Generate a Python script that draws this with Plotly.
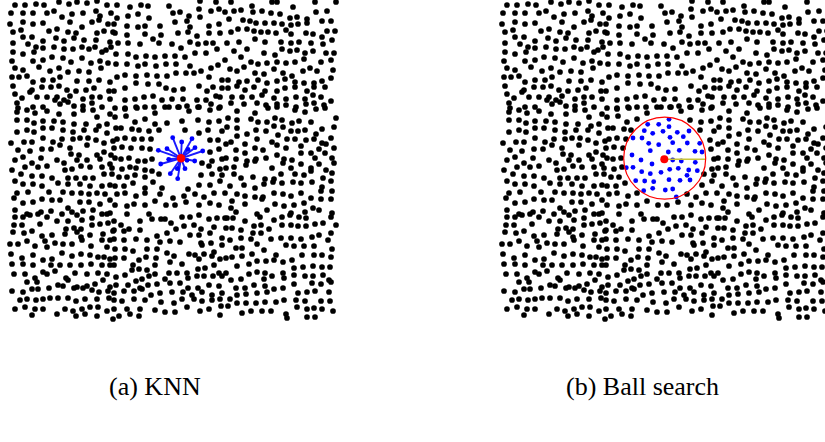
import math
import plotly.graph_objects as go

# ---------------- data (panel-local pixel units, y downward) ----------------
cloud_xy = [
# tile row 1
(15,5),(25,5),(36,4),(44,5),(59,2),(69,4),(77,2),(87,3),(97,1),(107,5),
(11,13),(23,13),(33,13),(47,13),(54,11),(62,17),(72,14),(83,13),(96,11),(100,16),(111,13),
(10,24),(23,22),(33,24),(43,23),(70,22),(82,27),(92,22),(99,20),(108,24),
(13,32),(21,30),(23,37),(32,37),(49,31),(57,29),(68,32),(76,33),(97,33),(104,31),(113,32),
(13,43),(28,44),(36,47),(43,41),(56,38),(64,41),(74,38),(84,40),(96,40),(95,47),(106,50),(110,42),
(13,52),(23,54),(34,52),(43,48),(54,47),(64,49),(73,49),(82,47),(89,49),(102,52),(111,47),
(12,61),(33,61),(43,60),(52,57),(63,58),(71,62),(82,58),(91,63),(100,61),(108,63),
(15,68),(23,70),(39,67),(50,71),(59,68),(68,72),(79,71),(89,72),(101,68),
(12,77),(19,77),(27,76),(33,82),(43,80),(53,80),(60,77),(77,81),(89,81),(99,80),(110,82),
(13,86),(32,90),(42,87),(51,87),(59,86),(67,90),(76,91),(86,90),(94,88),(109,91),
(15,94),(22,98),(30,92),(37,97),(47,97),(57,97),(64,100),(70,96),(83,99),(92,97),(100,97),(110,99),
(17,103),(18,108),(33,107),(43,107),(55,100),(60,104),(68,102),(74,106),(83,106),(92,103),(102,107),
(117,5),(130,7),(141,5),(148,6),(169,6),(200,1),(216,2),
(117,18),(128,16),(138,14),(149,18),(173,13),(180,12),(189,16),(199,9),(211,11),(219,9),(225,12),
(114,24),(127,26),(138,27),(145,26),(160,26),(175,22),(187,21),(190,27),(200,17),(209,26),(219,24),
(115,33),(127,35),(145,34),(153,39),(161,35),(178,33),(188,32),(197,36),(209,33),(220,33),
(118,43),(128,43),(140,44),(159,43),(172,44),(181,48),(190,42),(198,44),(206,43),(213,43),
(116,54),(128,54),(136,57),(146,56),(155,57),(165,56),(175,56),(185,57),(195,53),(206,53),(217,49),
(116,64),(127,64),(138,66),(145,64),(156,66),(166,64),(176,64),(190,66),(194,73),(201,71),(211,68),(218,65),
(117,77),(125,75),(136,76),(147,75),(157,76),(167,76),(176,73),(186,73),(209,77),(222,80),
(125,88),(136,83),(148,84),(159,84),(166,88),(174,90),(183,89),(199,86),(207,91),(213,87),(222,88),(216,96),
(114,91),(125,100),(135,99),(144,97),(153,96),(162,100),(172,99),(183,99),(197,100),(206,100),(220,97),
(125,108),(136,107),(154,107),(165,107),(178,107),(187,106),(199,107),(211,104),(220,107),
(231,2),(272,2),(277,2),(293,7),(315,2),(336,2),
(234,11),(241,10),(252,6),(253,12),(262,11),(271,13),(280,14),(290,18),(297,17),(307,19),(316,12),(327,11),
(229,19),(243,20),(250,21),(256,23),(265,23),(274,23),(282,24),(291,25),(298,24),(307,23),(322,21),(331,21),
(231,32),(238,29),(247,29),(254,31),(261,32),(268,32),(276,33),(286,30),(291,34),(306,33),(313,34),(322,37),(327,31),(335,31),
(227,43),(239,42),(255,39),(265,42),(281,42),(291,43),(299,42),(311,43),(323,44),(332,40),
(234,51),(247,49),(264,53),(275,55),(282,49),(290,51),(297,50),(305,53),(313,51),(326,53),(334,53),
(225,60),(241,57),(251,62),(258,64),(267,63),(277,62),(286,63),(295,62),(304,59),(321,62),(331,60),
(230,69),(237,71),(244,67),(255,73),(264,74),(274,69),(283,73),(292,76),(303,71),(310,68),(317,71),(333,70),
(228,80),(239,82),(247,81),(258,80),(267,83),(277,81),(285,79),(295,82),(304,83),(314,83),(322,81),(331,78),
(228,88),(237,86),(245,90),(254,87),(265,91),(277,91),(285,88),(295,87),(307,91),(314,87),(325,87),
(232,97),(242,97),(252,97),(262,95),(274,98),(286,99),(296,97),(305,99),(313,95),(321,97),(331,101),
(231,103),(244,104),(257,103),(266,105),(277,104),(286,105),(296,107),(306,104),(314,103),(324,105),
# tile row 2
(17,112),(27,110),(35,113),(47,111),(59,114),(74,114),(83,110),(93,110),(97,117),(110,114),
(17,120),(27,120),(34,123),(43,121),(54,121),(63,122),(74,124),(86,124),(99,126),(107,124),
(17,132),(27,130),(34,132),(43,128),(52,128),(63,130),(73,132),(84,130),(96,130),(107,133),
(11,143),(24,142),(32,142),(43,138),(53,142),(62,139),(73,139),(80,138),(88,138),(96,140),(104,143),(113,141),
(18,150),(30,151),(42,149),(51,149),(60,145),(70,148),(79,155),(87,145),(97,155),(104,152),(111,155),
(15,160),(23,157),(32,163),(41,158),(57,160),(64,163),(71,154),(77,160),(87,160),(100,159),(110,164),
(12,170),(25,167),(38,167),(47,166),(65,170),(72,169),(81,166),(90,167),(102,167),
(21,174),(32,176),(42,176),(52,178),(68,178),(76,178),(85,178),(93,178),(104,174),(112,174),
(15,181),(23,184),(33,184),(42,186),(58,183),(68,184),(80,184),(90,186),(102,186),(110,185),
(17,193),(28,192),(49,192),(63,192),(72,193),(81,193),(89,194),(97,193),(105,194),
(14,198),(23,203),(33,202),(42,199),(52,200),(60,200),(68,208),(80,202),(89,202),(100,204),(110,200),
(15,210),(27,214),(41,212),(51,211),(62,214),(72,212),(83,211),(93,210),(107,214),
(115,108),(125,109),(137,108),(145,107),(155,113),(169,107),(179,107),(189,111),(198,107),(210,110),(219,108),
(115,117),(126,116),(135,122),(145,119),(155,124),(167,123),(182,121),(198,120),(209,122),(219,121),
(116,128),(121,128),(132,129),(139,130),(149,131),(159,130),(169,133),(185,130),(199,133),(208,130),(222,131),
(117,139),(125,138),(134,139),(142,139),(151,139),(210,140),(218,140),
(114,148),(122,147),(131,148),(142,148),(150,149),(210,152),(219,149),
(115,158),(121,159),(129,158),(138,161),(145,161),(152,159),(202,163),(212,161),(222,159),
(112,168),(122,169),(130,167),(136,168),(145,170),(152,171),(209,166),(220,169),
(119,177),(127,177),(135,175),(145,177),(159,174),(191,174),(201,175),(212,174),(222,175),
(115,186),(124,186),(133,183),(145,188),(153,182),(162,188),(179,184),(188,189),(199,185),(210,185),(220,181),
(117,194),(125,193),(136,196),(145,193),(160,194),(173,198),(184,196),(195,194),(204,197),(214,193),
(115,205),(127,206),(134,204),(145,205),(155,201),(166,205),(175,205),(186,202),(199,205),(210,203),(219,205),
(237,111),(255,113),(268,108),(277,107),(295,110),(305,112),(316,109),(325,108),
(228,118),(237,120),(251,119),(258,122),(267,122),(275,118),(282,120),(292,123),(299,121),(311,122),(336,118),
(227,127),(237,128),(247,134),(256,130),(266,131),(274,126),(283,127),(291,131),(298,131),(305,130),(316,134),(322,129),(334,127),
(226,144),(231,142),(237,136),(245,144),(257,139),(272,142),(278,135),(287,139),(295,139),(306,140),(314,139),(322,143),(331,138),
(236,150),(245,153),(255,148),(263,150),(277,145),(286,148),(301,146),(311,153),(319,149),(326,144),(334,148),
(226,158),(236,159),(247,161),(256,159),(266,158),(277,155),(284,159),(292,160),(301,153),(315,158),(325,153),(332,158),
(226,168),(234,167),(246,165),(255,161),(272,168),(283,163),(291,168),(301,164),(311,168),(319,164),(326,170),(334,163),
(234,174),(241,178),(253,177),(265,179),(274,179),(281,174),(295,174),(304,175),(311,171),(323,178),(332,173),
(230,186),(244,185),(255,188),(264,184),(273,182),(282,183),(293,182),(301,183),(312,182),(322,187),(331,181),
(225,193),(237,194),(245,196),(255,197),(263,197),(274,193),(283,194),(291,196),(301,193),(311,198),(321,191),(332,191),
(232,201),(245,204),(262,199),(275,204),(284,206),(294,205),(304,203),(313,208),(321,199),(331,199),
(231,208),(236,212),(257,214),(267,210),(291,213),(305,212),(319,210),(332,213),
# tile row 3
(15,217),(23,217),(30,215),(38,214),(47,217),(57,221),(68,221),(77,215),(82,220),(92,218),(102,214),(110,213),
(14,225),(22,225),(40,224),(66,229),(74,228),(81,229),(92,225),(100,224),(108,223),
(13,232),(24,233),(32,231),(42,236),(52,235),(65,234),(77,232),(81,237),(90,235),(103,234),(113,231),
(10,244),(18,244),(27,241),(35,246),(45,241),(47,247),(55,243),(63,244),(72,244),(82,240),(91,246),(102,240),(110,240),
(11,254),(22,258),(33,255),(43,260),(52,259),(62,253),(72,256),(81,254),(90,255),(98,257),(104,257),(110,259),(107,247),
(12,264),(23,264),(33,265),(43,272),(51,265),(60,265),(70,265),(81,265),(91,264),(102,265),(110,265),
(14,274),(25,274),(35,278),(47,274),(55,271),(66,278),(75,273),(87,274),(98,273),(107,274),
(27,282),(37,282),(49,288),(58,285),(68,280),(77,287),(87,286),(95,284),(103,280),(110,287),
(12,291),(23,292),(32,289),(38,289),(63,286),(74,288),(83,288),(92,290),(99,292),(108,291),
(20,300),(27,299),(36,300),(43,299),(50,298),(58,298),(68,298),(76,301),(85,299),(97,299),(109,298),
(15,309),(25,307),(35,309),(43,309),(65,309),(73,311),(82,309),(90,307),(98,307),(107,311),
(32,315),(57,314),(76,316),(85,314),(97,316),(113,319),
(127,214),(149,214),(165,219),(182,217),(190,217),(199,215),(209,219),(217,218),(225,218),
(114,221),(121,225),(129,229),(140,221),(152,219),(161,219),(171,223),(184,226),(194,225),(201,229),(214,227),
(114,230),(124,231),(140,230),(157,236),(167,233),(176,229),(190,235),(199,235),(210,233),(222,238),
(114,239),(124,240),(136,239),(147,240),(160,242),(170,241),(180,242),(201,243),(211,243),(222,245),
(115,249),(125,249),(133,251),(147,249),(157,249),(167,253),(174,256),(189,254),(195,255),(202,245),(204,254),(214,252),
(115,258),(124,258),(133,265),(139,260),(146,257),(156,258),(170,262),(182,264),(199,259),(212,256),(220,259),
(114,265),(132,270),(139,269),(147,270),(155,265),(155,274),(169,273),(177,273),(187,273),(198,269),(205,268),(214,265),(219,273),
(116,277),(125,275),(136,281),(142,279),(149,276),(165,279),(188,278),(197,276),(204,276),(213,276),(222,276),
(116,285),(128,285),(140,288),(148,285),(157,284),(170,283),(180,283),(188,288),(198,288),(209,285),(219,286),
(114,293),(124,291),(134,291),(142,289),(151,295),(160,293),(172,292),(183,292),(192,295),(202,292),(212,295),(222,293),
(114,300),(122,301),(134,299),(145,300),(161,302),(174,303),(182,299),(194,299),(202,301),(212,300),(220,299),
(114,309),(127,309),(140,309),(155,310),(165,312),(175,312),(187,307),(200,311),(209,309),(221,306),
(119,316),(130,314),(139,316),(220,315),
(227,218),(233,218),(245,221),(260,217),(274,220),(282,217),(290,215),(299,217),(306,218),(331,217),
(226,228),(232,228),(241,230),(254,226),(261,225),(269,229),(282,225),(291,225),(298,226),(306,226),(315,224),(323,223),(336,225),
(230,240),(241,238),(251,239),(253,233),(261,233),(271,239),(281,238),(291,238),(301,239),(312,237),(319,235),(331,233),
(236,248),(242,248),(257,244),(264,250),(276,255),(286,245),(294,246),(304,246),(314,246),(328,240),(332,249),
(226,258),(232,257),(242,256),(252,254),(249,264),(257,261),(266,261),(274,260),(283,262),(292,260),(302,255),(314,255),(322,255),(331,257),
(226,273),(237,266),(249,274),(257,272),(265,273),(272,276),(283,273),(294,268),(303,267),(313,266),(322,267),(330,267),
(231,280),(241,279),(254,285),(264,279),(274,289),(284,278),(294,275),(305,276),(313,276),(323,275),(329,280),
(236,288),(245,288),(265,286),(283,288),(294,284),(312,283),(321,284),(331,282),
(230,299),(237,295),(246,294),(257,293),(267,292),(284,300),(298,293),(307,292),(315,291),(329,292),
(228,306),(237,303),(246,303),(256,303),(265,302),(276,302),(296,300),(305,301),(321,301),(330,301),
(242,313),(251,311),(262,311),(271,311),(286,314),(297,307),(307,309),(314,308),(322,309),(333,311),
(287,318),(307,317),(315,317),
]

# (a) KNN: query point and its neighbours
knn_query = (181, 158.3)
knn_nb_x = [172.7, 181.7, 192.0, 158.3, 167.0, 188.0, 195.0, 202.7,
            160.7, 168.7, 170.3, 177.3, 185.0, 194.7, 177.7, 187.0]
knn_nb_y = [137.7, 142.0, 138.7, 150.3, 148.7, 149.3, 147.7, 151.0,
            164.0, 159.3, 173.7, 168.7, 168.7, 161.0, 178.7, 160.3]

# (b) Ball search: query point, radius and points inside the ball
ball_query = (172.3, 159.3)
ball_center = (172.7, 158.2)
ball_radius = 41.0
ball_nb_x = [177.0, 155.7, 166.7, 177.0, 152.3, 160.7, 171.0, 185.3, 197.0, 141.0,
             150.0, 178.0, 191.3, 156.7, 166.7, 180.7, 195.3, 207.7, 158.3, 176.3,
             187.3, 203.0, 210.0, 140.0, 149.0, 160.0, 180.7, 189.3, 203.3, 134.3,
             141.0, 177.7, 186.3, 196.7, 205.3, 149.7, 158.3, 169.0, 195.0, 143.7,
             152.7, 161.7, 177.0, 188.0, 198.0, 151.7, 160.7, 173.3, 180.7, 184.3]
ball_nb_y = [119.3, 124.3, 124.3, 126.7, 130.7, 133.3, 131.3, 132.3, 131.0, 138.0,
             138.0, 137.3, 136.7, 143.3, 144.7, 142.7, 143.0, 143.3, 150.7, 152.0,
             150.3, 151.3, 152.0, 155.0, 160.0, 164.0, 160.0, 161.0, 162.3, 167.7,
             167.3, 169.3, 168.3, 170.0, 170.7, 171.7, 173.7, 172.3, 175.3, 180.7,
             181.0, 181.7, 179.7, 180.3, 180.0, 190.7, 188.3, 190.0, 189.0, 197.0]

captions = ["(a) KNN", "(b) Ball search"]

# ---------------- figure ----------------
W, H = 825, 442
PANEL_SHIFT = 492  # right panel offset in pixels

cx = [p[0] for p in cloud_xy]
cy = [p[1] for p in cloud_xy]

def near(x, y, xs, ys, d):
    return any((x - a) ** 2 + (y - b) ** 2 < d * d for a, b in zip(xs, ys))

# left panel black points (remove those that are highlighted)
lx, ly = [], []
for x, y in zip(cx, cy):
    if math.hypot(x - knn_query[0], y - knn_query[1]) < 21:
        continue
    if near(x, y, knn_nb_x, knn_nb_y, 7):
        continue
    lx.append(x); ly.append(y)

# right panel black points (outside the ball)
rx, ry = [], []
for x, y in zip(cx, cy):
    if math.hypot(x - ball_center[0], y - ball_center[1]) < ball_radius + 1:
        continue
    rx.append(x); ry.append(y)

fig = go.Figure()
BLACK = dict(color="black", size=5.7, line=dict(width=0))

fig.add_trace(go.Scatter(x=lx, y=ly, mode="markers", marker=BLACK,
                         xaxis="x", yaxis="y", hoverinfo="skip"))
# KNN spokes
sx, sy = [], []
for bx, by in zip(knn_nb_x, knn_nb_y):
    sx += [knn_query[0], bx, None]
    sy += [knn_query[1], by, None]
fig.add_trace(go.Scatter(x=sx, y=sy, mode="lines", line=dict(color="#1a1aff", width=1.9),
                         xaxis="x", yaxis="y", hoverinfo="skip"))
fig.add_trace(go.Scatter(x=knn_nb_x, y=knn_nb_y, mode="markers",
                         marker=dict(color="#0000ff", size=4.8, line=dict(width=0)),
                         xaxis="x", yaxis="y", hoverinfo="skip"))
fig.add_trace(go.Scatter(x=[knn_query[0]], y=[knn_query[1]], mode="markers",
                         marker=dict(color="#ff0000", size=8.5, line=dict(width=0)),
                         xaxis="x", yaxis="y", hoverinfo="skip"))

# right panel
fig.add_trace(go.Scatter(x=rx, y=ry, mode="markers", marker=BLACK,
                         xaxis="x2", yaxis="y2", hoverinfo="skip"))
fig.add_trace(go.Scatter(x=ball_nb_x, y=ball_nb_y, mode="markers",
                         marker=dict(color="#0000ff", size=4.8, line=dict(width=0)),
                         xaxis="x2", yaxis="y2", hoverinfo="skip"))
fig.add_trace(go.Scatter(x=[ball_query[0], ball_center[0] + ball_radius],
                         y=[ball_query[1], ball_query[1]], mode="lines",
                         line=dict(color="#c8c43a", width=1.5),
                         xaxis="x2", yaxis="y2", hoverinfo="skip"))
fig.add_trace(go.Scatter(x=[ball_query[0]], y=[ball_query[1]], mode="markers",
                         marker=dict(color="#ff0000", size=8, line=dict(width=0)),
                         xaxis="x2", yaxis="y2", hoverinfo="skip"))
fig.add_shape(type="circle", xref="x2", yref="y2",
              x0=ball_center[0] - ball_radius, x1=ball_center[0] + ball_radius,
              y0=ball_center[1] - ball_radius, y1=ball_center[1] + ball_radius,
              line=dict(color="#ff0000", width=1.2), layer="above")

ax = dict(visible=False, showgrid=False, zeroline=False, fixedrange=True)
fig.update_layout(
    width=W, height=H, margin=dict(l=0, r=0, t=0, b=0),
    paper_bgcolor="white", plot_bgcolor="white", showlegend=False,
    xaxis=dict(ax, domain=[0, 0.5], range=[0, W / 2]),
    yaxis=dict(ax, domain=[0, 1], range=[H, 0]),
    xaxis2=dict(ax, domain=[0.5, 1], range=[W / 2 - PANEL_SHIFT, W - PANEL_SHIFT]),
    yaxis2=dict(ax, domain=[0, 1], range=[H, 0], anchor="x2"),
)

cap_font = dict(family="Liberation Serif, DejaVu Serif, serif", size=26, color="black")
for txt, px in zip(captions, [155, 642]):
    fig.add_annotation(text=txt, xref="paper", yref="paper", x=px / W, y=1 - 386 / H,
                       xanchor="center", yanchor="middle", showarrow=False, font=cap_font)

fig.write_html("out.html")
